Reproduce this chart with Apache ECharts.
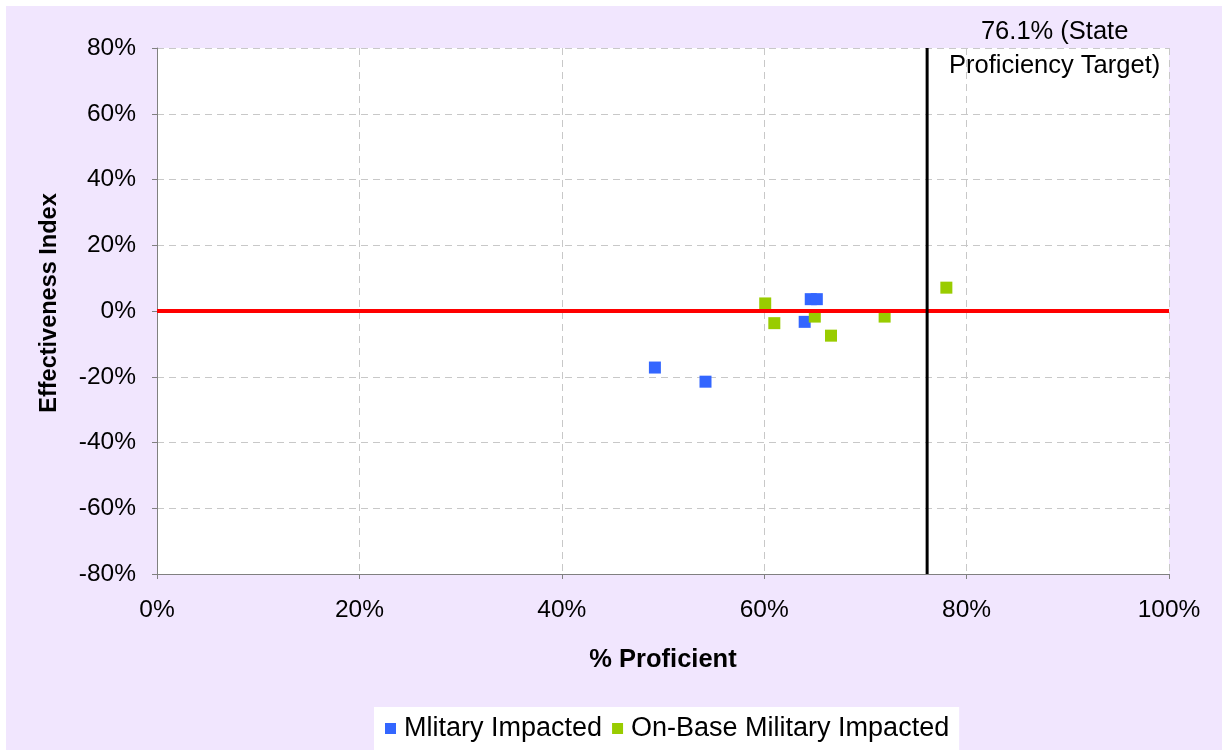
<!DOCTYPE html>
<html>
<head>
<meta charset="utf-8">
<script src="https://cdn.jsdelivr.net/npm/echarts@6/dist/echarts.min.js"></script>
<style>
html,body{margin:0;padding:0;background:#fff;}
#c{position:absolute;left:6px;top:6px;width:1216px;height:744px;}
</style>
</head>
<body>
<div id="c"></div>
<script>
// Data (percent values)
const militaryX = [49.2, 54.2, 64.0, 64.6, 65.2];
const militaryY = [-17.2, -21.5, -3.3, 3.6, 3.6];
const onBaseX = [60.1, 61.0, 65.0, 66.6, 71.9, 78.0];
const onBaseY = [2.3, -3.7, -1.7, -7.5, -1.7, 7.1];
const xTicks = [0, 20, 40, 60, 80, 100];
const yTicks = [-80, -60, -40, -20, 0, 20, 40, 60, 80];
const targetX = 76.1;
const zeroY = 0;
const seriesNames = ['Mlitary Impacted', 'On-Base Military Impacted'];
const targetLabel = '76.1% (State\nProficiency Target)';

const zip = (a, b) => a.map((v, i) => [v, b[i]]);
const xMin = xTicks[0], xMax = xTicks[xTicks.length - 1];
const yMin = yTicks[0], yMax = yTicks[yTicks.length - 1];

const chart = echarts.init(document.getElementById('c'));
const font = "'Liberation Sans', Arial, sans-serif";
const option = {
  backgroundColor: '#F1E6FE',
  animation: false,
  textStyle: { fontFamily: font },
  grid: { left: 151, right: 53, top: 42, bottom: 176, backgroundColor: '#fff', show: true, borderWidth: 0 },
  xAxis: {
    type: 'value', min: xMin, max: xMax, interval: 20,
    name: '% Proficient', nameLocation: 'middle', nameGap: 73,
    nameTextStyle: { fontWeight: 'bold', fontSize: 25.5, color: '#000', fontFamily: font },
    axisLine: { show: true, onZero: false, lineStyle: { color: '#808080', width: 1 } },
    axisTick: { show: true, inside: false, length: 5, lineStyle: { color: '#808080' } },
    axisLabel: { formatter: '{value}%', fontSize: 24.5, color: '#000', margin: 24, fontFamily: font },
    splitLine: { show: true, lineStyle: { type: [7, 5], color: '#C8C8C8', width: 1 } }
  },
  yAxis: {
    type: 'value', min: yMin, max: yMax, interval: 20,
    name: 'Effectiveness Index', nameLocation: 'middle', nameGap: 95,
    nameTextStyle: { fontWeight: 'bold', fontSize: 23.5, color: '#000', fontFamily: font, padding: [0, 0, 0, 16] },
    axisLine: { show: true, onZero: false, lineStyle: { color: '#808080', width: 1 } },
    axisTick: { show: true, inside: false, length: 5, lineStyle: { color: '#808080' } },
    axisLabel: { formatter: '{value}%', fontSize: 24.5, color: '#000', margin: 21, fontFamily: font },
    splitLine: { show: true, lineStyle: { type: [7, 5], color: '#C8C8C8', width: 1 } }
  },
  legend: {
    bottom: 0, left: 368,
    data: seriesNames,
    icon: 'rect', itemWidth: 11, itemHeight: 11, itemGap: 10,
    backgroundColor: '#fff', padding: [8, 10, 8, 11],
    textStyle: { fontSize: 27, color: '#000', fontFamily: font, padding: [0, 0, 0, 3] }
  },
  series: [
    {
      name: seriesNames[0], type: 'scatter', symbol: 'rect', symbolSize: 12,
      itemStyle: { color: '#3366FF', opacity: 1 }, z: 2,
      data: zip(militaryX, militaryY)
    },
    {
      name: seriesNames[1], type: 'scatter', symbol: 'rect', symbolSize: 12,
      itemStyle: { color: '#99CC00', opacity: 1 }, z: 2,
      data: zip(onBaseX, onBaseY)
    },
    {
      name: 'zero', type: 'line', z: 5, symbol: 'none', silent: true,
      lineStyle: { color: '#FF0000', width: 4 },
      data: [[xMin, zeroY], [xMax, zeroY]]
    },
    {
      name: 'target', type: 'line', z: 6, symbol: 'none', silent: true,
      lineStyle: { color: '#000', width: 3 },
      data: [[targetX, yMin], [targetX, yMax]]
    }
  ]
};
chart.setOption(option);
const p = chart.convertToPixel({ xAxisIndex: 0, yAxisIndex: 0 }, [88.7, yMax]);
chart.setOption({
  graphic: [{
    type: 'text', x: p[0], y: p[1] + 1, z: 10,
    style: {
      text: targetLabel, fontSize: 25.5, fontFamily: font, fill: '#000',
      align: 'center', verticalAlign: 'middle', lineHeight: 34
    }
  }]
});
</script>
</body>
</html>
